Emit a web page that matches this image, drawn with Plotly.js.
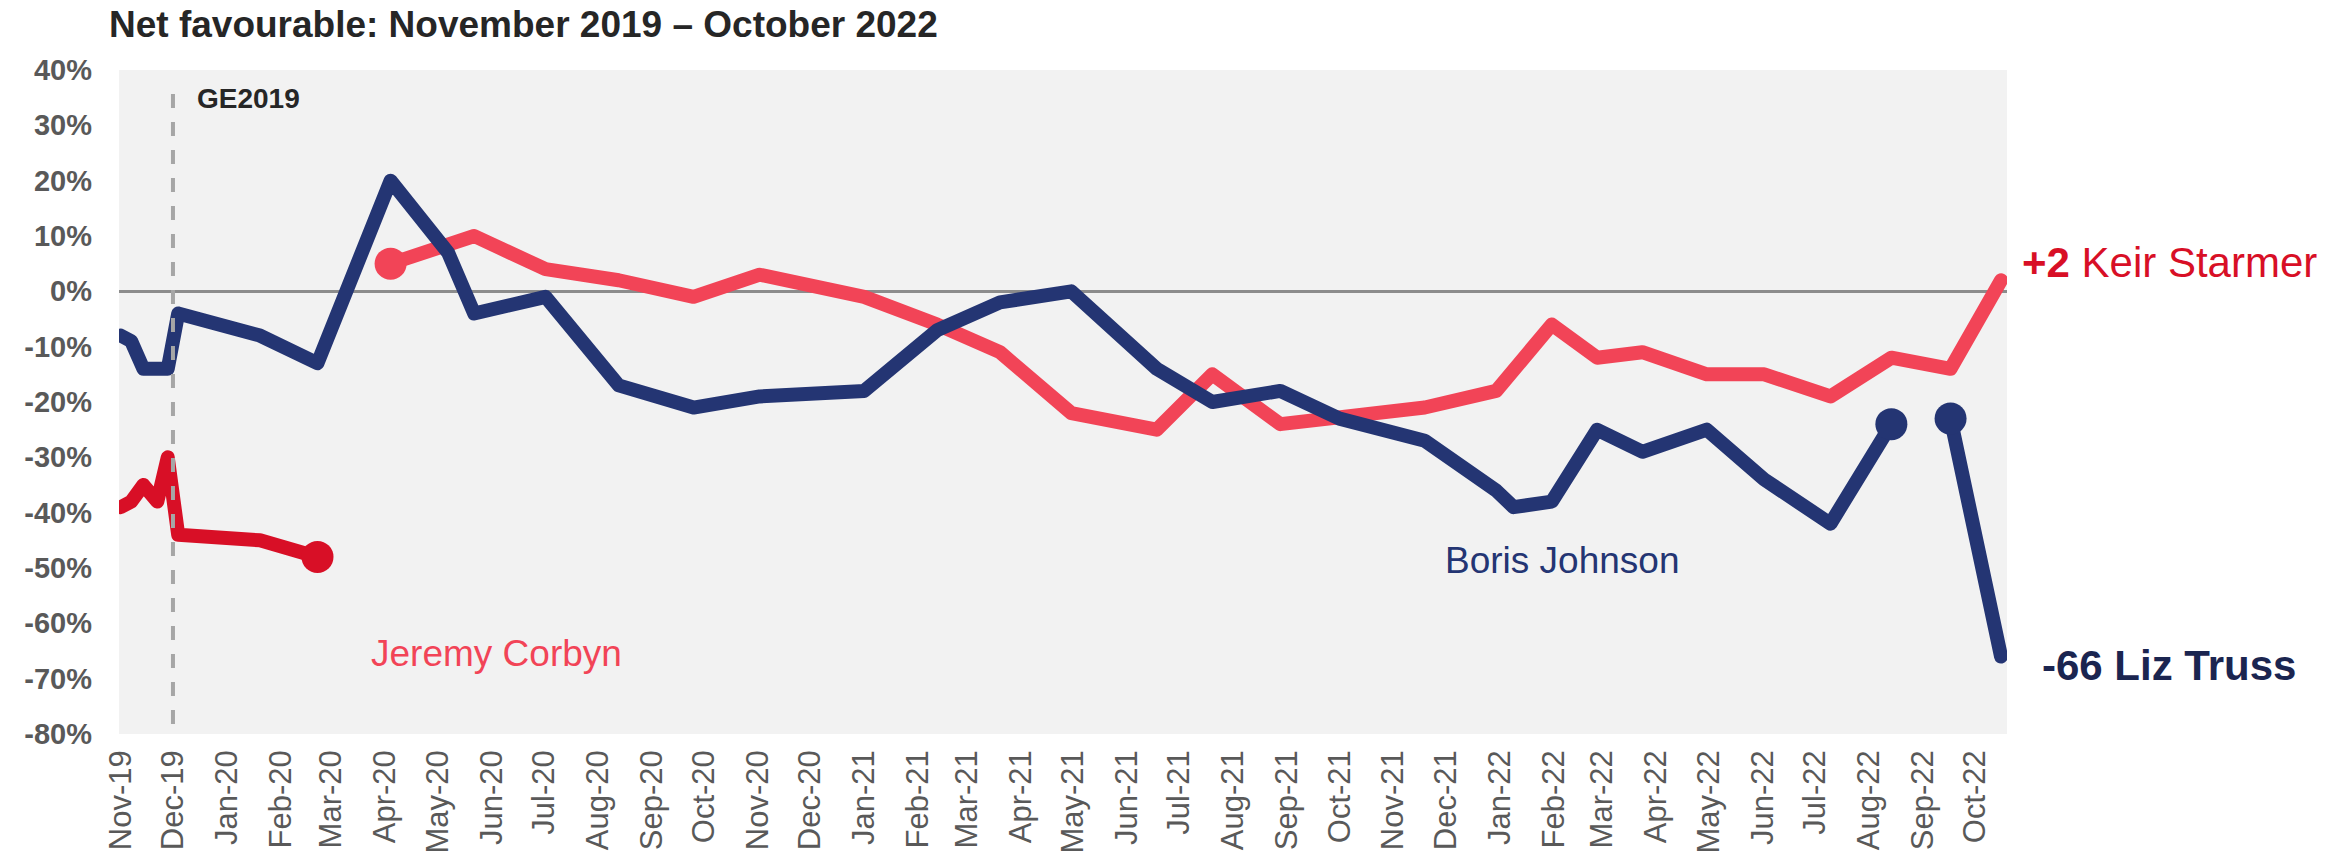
<!DOCTYPE html>
<html>
<head>
<meta charset="utf-8">
<script src="https://cdn.plot.ly/plotly-3.0.1.min.js"></script>
<style>
  html, body { margin: 0; padding: 0; background: #ffffff; }
  #chart { width: 2346px; height: 858px; }
  .js-line { stroke-linecap: round !important; stroke-linejoin: round !important; }
</style>
</head>
<body>
<div id="chart"></div>
<script>
// ---- Data ----
const corbynDates = ['2019-11-01','2019-11-07','2019-11-14','2019-11-22','2019-11-28','2019-12-04','2020-01-20','2020-02-22'];
const corbynValues = [-39, -38, -35, -38, -30, -44, -45, -48];

const johnsonDates = ['2019-11-01','2019-11-07','2019-11-14','2019-11-22','2019-11-28','2019-12-04','2020-01-20','2020-02-22',
  '2020-04-04','2020-05-07','2020-05-22','2020-07-02','2020-08-13','2020-09-25','2020-11-02',
  '2021-01-01','2021-02-12','2021-03-20','2021-04-30','2021-06-18','2021-07-20','2021-08-28','2021-10-01','2021-11-19','2021-12-30',
  '2022-01-09','2022-01-31','2022-02-26','2022-03-24','2022-04-30','2022-06-02','2022-07-10','2022-08-14'];
const johnsonValues = [-8, -9, -14, -14, -14, -4, -8, -13,
  20, 7, -4, -1, -17, -21, -19,
  -18, -7, -2, 0, -14, -20, -18, -23, -27, -36,
  -39, -38, -25, -29, -25, -34, -42, -24];

const trussDates = ['2022-09-17','2022-10-16'];
const trussValues = [-23, -66];

const starmerDates = ['2020-04-04','2020-05-07','2020-05-22','2020-07-02','2020-08-13','2020-09-25','2020-11-02',
  '2021-01-01','2021-02-12','2021-03-20','2021-04-30','2021-06-18','2021-07-20','2021-08-28','2021-10-01','2021-11-19','2021-12-30',
  '2022-01-09','2022-01-31','2022-02-26','2022-03-24','2022-04-30','2022-06-02','2022-07-10','2022-08-14','2022-09-17','2022-10-16'];
const starmerValues = [5, 8, 10, 4, 2, -1, 3,
  -1, -6, -11, -22, -25, -15, -24, -23, -21, -18,
  -14, -6, -12, -11, -15, -15, -19, -12, -14, 2];

const yTickVals = [-80, -70, -60, -50, -40, -30, -20, -10, 0, 10, 20, 30, 40];
const yTickText = ['-80%', '-70%', '-60%', '-50%', '-40%', '-30%', '-20%', '-10%', '0%', '10%', '20%', '30%', '40%'];

const electionDate = '2019-12-01';
const titleText = 'Net favourable: November 2019 – October 2022';

// ---- Styles ----
const FONT = 'Arial, "Liberation Sans", sans-serif';
const NAVY = '#243573';
const PINK = '#F24457';
const RED = '#D80F26';
const LW = 14;
const MS = 32;

const last = a => a[a.length - 1];

const traces = [
  { x: starmerDates, y: starmerValues, type: 'scatter', mode: 'lines',
    line: { color: PINK, width: LW }, hoverinfo: 'skip' },
  { x: [starmerDates[0]], y: [starmerValues[0]], type: 'scatter', mode: 'markers',
    marker: { color: PINK, size: MS }, hoverinfo: 'skip' },
  { x: corbynDates, y: corbynValues, type: 'scatter', mode: 'lines',
    line: { color: RED, width: LW }, hoverinfo: 'skip' },
  { x: [last(corbynDates)], y: [last(corbynValues)], type: 'scatter', mode: 'markers',
    marker: { color: RED, size: MS }, hoverinfo: 'skip' },
  { x: johnsonDates, y: johnsonValues, type: 'scatter', mode: 'lines',
    line: { color: NAVY, width: LW }, hoverinfo: 'skip' },
  { x: [last(johnsonDates)], y: [last(johnsonValues)], type: 'scatter', mode: 'markers',
    marker: { color: NAVY, size: MS }, hoverinfo: 'skip' },
  { x: trussDates, y: trussValues, type: 'scatter', mode: 'lines',
    line: { color: NAVY, width: LW }, hoverinfo: 'skip' },
  { x: [trussDates[0]], y: [trussValues[0]], type: 'scatter', mode: 'markers',
    marker: { color: NAVY, size: MS }, hoverinfo: 'skip' }
];

const layout = {
  width: 2346, height: 858,
  margin: { l: 119, r: 339, t: 70, b: 124, pad: 0 },
  paper_bgcolor: '#FFFFFF',
  plot_bgcolor: '#F2F2F2',
  showlegend: false,
  font: { family: FONT },
  title: {
    text: '<b>' + titleText + '</b>',
    font: { family: FONT, size: 37, color: '#262626' },
    x: 109 / 2346, xref: 'container', xanchor: 'left',
    y: 1 - 24 / 858, yref: 'container', yanchor: 'middle'
  },
  xaxis: {
    type: 'date',
    range: ['2019-10-31', '2022-10-19 10:00'],
    tickmode: 'linear', tick0: '2019-11-01', dtick: 'M1',
    tickformat: '%b-%y', tickangle: -90,
    tickfont: { family: FONT, size: 31, color: '#595959' },
    showgrid: false, zeroline: false, showline: false, ticks: '',
    ticklabelstandoff: 9,
    fixedrange: true
  },
  yaxis: {
    range: [-80, 40],
    tickmode: 'array', tickvals: yTickVals, ticktext: yTickText,
    tickfont: { family: FONT, size: 29, color: '#595959', weight: 700 },
    showgrid: false, zeroline: true, zerolinecolor: '#8C8C8C', zerolinewidth: 2.5,
    showline: false, ticks: '', ticklabelstandoff: 26,
    fixedrange: true
  },
  shapes: [
    { type: 'line', xref: 'x', yref: 'y', x0: electionDate, x1: electionDate, y0: -78.2, y1: 38.1,
      line: { color: '#A6A6A6', width: 4, dash: '14px,14px' }, layer: 'above' }
  ],
  annotations: [
    { text: '<b>GE2019</b>', xref: 'paper', yref: 'y', x: (195 - 119) / 1888, y: 34.9,
      xanchor: 'left', yanchor: 'middle', showarrow: false,
      font: { family: FONT, size: 28, color: '#262626' } },
    { text: '<b>+2</b> Keir Starmer', xref: 'paper', yref: 'y', x: (2020 - 119) / 1888, y: 5.2,
      xanchor: 'left', yanchor: 'middle', showarrow: false,
      font: { family: FONT, size: 42, color: RED } },
    { text: '<b>-66 Liz Truss</b>', xref: 'paper', yref: 'y', x: (2040 - 119) / 1888, y: -67.6,
      xanchor: 'left', yanchor: 'middle', showarrow: false,
      font: { family: FONT, size: 42, color: '#1B2550' } },
    { text: 'Boris Johnson', xref: 'paper', yref: 'y', x: (1562 - 119) / 1888, y: -48.6,
      xanchor: 'center', yanchor: 'middle', showarrow: false,
      font: { family: FONT, size: 37, color: NAVY } },
    { text: 'Jeremy Corbyn', xref: 'paper', yref: 'y', x: (496 - 119) / 1888, y: -65.4,
      xanchor: 'center', yanchor: 'middle', showarrow: false,
      font: { family: FONT, size: 37, color: PINK } }
  ]
};

Plotly.newPlot('chart', traces, layout, { staticPlot: true, displayModeBar: false });
</script>
</body>
</html>
